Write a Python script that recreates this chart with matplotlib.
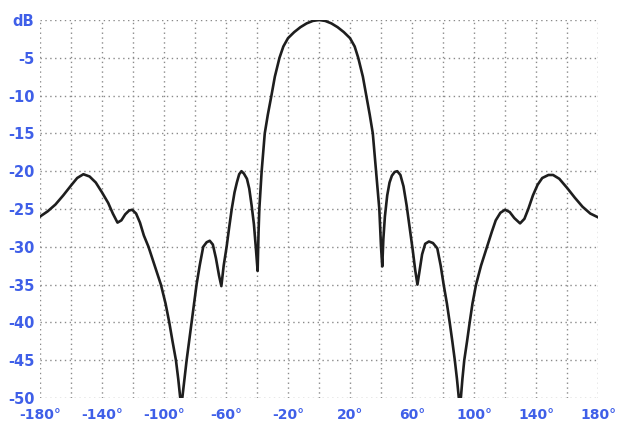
import matplotlib
matplotlib.use("Agg")
import matplotlib.pyplot as plt

# Диаграмма направленности, значения
angle = [
    -180, -175, -170, -165, -160, -156, -152, -148, -144, -140, -136, -133,
    -130, -127.5, -125, -122.5, -120.5, -118, -115.5, -113, -110, -106,
    -102, -99, -96.6, -94.5, -92.3, -90.8, -89.5, -89, -88.2, -86.8, -85.4,
    -83.8, -82.2, -80.6, -79, -77, -74.7, -72.5, -70.5, -68.5, -66.5, -64.5,
    -63, -61.5, -59.6, -58, -56.3, -54.5, -53, -51.5, -50, -48.5, -46.5,
    -45, -43.5, -42, -40.8, -39.6, -39, -38.5, -37, -35, -33, -30.7, -28.5,
    -25.5, -23, -20, -16, -12, -8, -4, 0,
    4, 8, 12, 16, 20, 23, 25.3, 28.3, 30.5, 32.7, 34.7, 36.8, 38.9, 40, 40.8, 41.5,
    42.5, 44, 45.5, 47, 48.8, 50.5, 52.5, 54.5, 56.5, 58.5, 60.5, 62, 63.5, 65,
    66.5, 68.5, 70.9, 73.5, 76.3, 78.5, 80.4, 82.5, 84.3, 86, 87.6, 89, 90.2,
    90.8, 91.5, 92.5, 93.7, 95.5, 97.2, 99, 101.3, 104.5, 108.4, 111.5, 114,
    117, 120, 123, 126, 129.7, 132.5, 135, 138, 141, 144, 148, 151, 155, 160,
    165, 170, 175, 180,
]
gain_db = [
    -26.0, -25.3, -24.4, -23.2, -21.9, -20.9, -20.4, -20.7, -21.5, -22.8, -24.2, -25.6,
    -26.8, -26.5, -25.7, -25.2, -25.1, -25.6, -26.8, -28.5, -30.0, -32.5,
    -35.0, -37.5, -40.0, -42.5, -45.0, -47.5, -50.0, -51.0, -50.0, -47.5, -45.0,
    -42.5, -40.0, -37.5, -35.0, -32.5, -30.0, -29.4, -29.2, -29.7, -31.5, -33.8,
    -35.2, -32.5, -30.0, -27.5, -25.0, -22.8, -21.5, -20.4, -20.0, -20.3, -21.0,
    -22.3, -24.5, -27.0, -30.0, -33.2, -28.0, -25.0, -20.0, -15.0, -12.5, -10.0, -7.5,
    -5.0, -3.5, -2.4, -1.6, -0.95, -0.45, -0.12, 0.0,
    -0.12, -0.45, -0.95, -1.6, -2.4, -3.5, -5.0, -7.5, -10.0, -12.5, -15.0, -20.0, -25.0, -30.0, -32.6, -29.0,
    -26.0, -23.2, -21.5, -20.6, -20.1, -20.0, -20.5, -22.0, -24.5, -27.5, -30.5, -33.0, -35.0, -33.0,
    -31.0, -29.6, -29.3, -29.5, -30.2, -32.5, -35.0, -37.5, -40.0, -42.5, -45.0, -47.5, -50.0,
    -51.0, -50.0, -47.5, -45.0, -42.5, -40.0, -37.5, -35.0, -32.5, -30.0, -28.0, -26.5,
    -25.5, -25.1, -25.4, -26.2, -26.9, -26.3, -25.0, -23.2, -21.8, -20.9, -20.5, -20.5, -21.0, -22.2,
    -23.5, -24.7, -25.6, -26.1,
]

x_ticks = list(range(-180, 181, 40))
x_labels = [f"{t}°" for t in x_ticks]
y_ticks = list(range(0, -51, -5))
y_labels = ["dB"] + [str(t) for t in y_ticks[1:]]

blue = "#3f5fe8"

fig = plt.figure(figsize=(6.18, 4.23), dpi=100)
ax = fig.add_axes([0.0647, 0.0591, 0.903, 0.8936])

# сетка точками
for gx in range(-180, 181, 20):
    ax.axvline(gx, color="#8a8a8a", lw=1.0, ls=(0, (1, 2.5)), zorder=1)
for gy in y_ticks:
    ax.axhline(gy, color="#8a8a8a", lw=1.0, ls=(0, (1, 2.5)), zorder=1)

ax.plot(angle, gain_db, color="#1e1e1e", lw=1.9, zorder=3,
        solid_joinstyle="round")

ax.set_xlim(-180, 180)
ax.set_ylim(-50, 0)
ax.set_xticks(x_ticks)
ax.set_xticklabels(x_labels)
ax.set_yticks(y_ticks)
ax.set_yticklabels(y_labels)
ax.tick_params(length=0, labelcolor=blue)
ax.tick_params(axis="x", pad=7)
ax.tick_params(axis="y", pad=4)
for lab in ax.get_xticklabels():
    lab.set_fontfamily("DejaVu Sans")
    lab.set_fontweight("bold")
    lab.set_fontsize(10)
for lab in ax.get_yticklabels():
    lab.set_fontfamily("DejaVu Sans")
    lab.set_fontweight("bold")
    lab.set_fontsize(10.5)
for sp in ax.spines.values():
    sp.set_visible(False)

fig.savefig("out.png", dpi=100)
